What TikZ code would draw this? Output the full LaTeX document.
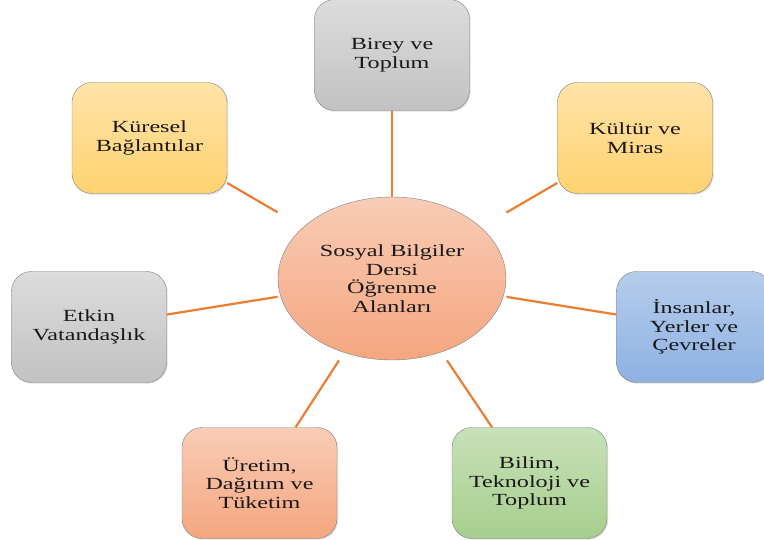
\documentclass[tikz,border=0pt]{standalone}
\usepackage{fontspec}
\setmainfont{Liberation Serif}[FakeStretch=1.42]
\usepackage{tikz}
\usepackage{xcolor}
\usetikzlibrary{shapes.geometric,fit,shadows}
\definecolor{myorange}{HTML}{ED7D31}
\definecolor{mygraytop}{HTML}{DCDCDC}
\definecolor{mygraybot}{HTML}{C2C2C2}
\definecolor{myyellowtop}{HTML}{FFE3A8}
\definecolor{myyellowbot}{HTML}{FFD270}
\definecolor{mybluetop}{HTML}{B6CDEC}
\definecolor{mybluebot}{HTML}{8EB1E2}
\definecolor{mygreentop}{HTML}{C8E1B9}
\definecolor{mygreenbot}{HTML}{A6CE8D}
\definecolor{myredtop}{HTML}{F9CCB6}
\definecolor{myredbot}{HTML}{F4A67F}
\tikzset{
	textfont/.style={font=\fontsize{17}{18.6}\selectfont,text=black!90,align=center},
	box/.style={textfont,rounded corners=20,draw=black!50,thin,minimum width=155,minimum height=111,
		drop shadow={shadow xshift=1.2pt,shadow yshift=-1.2pt,opacity=0.25}},
	box gray/.style={box,top color=mygraytop,bottom color=mygraybot},
	box yellow/.style={box,top color=myyellowtop,bottom color=myyellowbot},
	box blue/.style={box,top color=mybluetop,bottom color=mybluebot},
	box green/.style={box,top color=mygreentop,bottom color=mygreenbot},
	box red/.style={box,top color=myredtop,bottom color=myredbot},
	node center/.style={textfont,ellipse,inner sep=0,draw=black!50,thin,minimum width=228,minimum height=163,
		top color=myredtop,bottom color=myredbot},
	connect/.style={myorange,line width=2.2}
}

\begin{document}
\begin{tikzpicture}[x=1pt,y=-1pt]
  \useasboundingbox (0,0) rectangle (764,540);
  
  % CENTER
  \node[node center] (center) at (392,278.5) {Sosyal Bilgiler\\Dersi\\Öğrenme\\Alanları};
  \node[fit=(center),inner sep=0] (hub) {}; % lines stop at the box round the ellipse
  
  % AREAS
  \node[box gray]   (birey)    at (392,55)    {Birey ve\\Toplum};
  \node[box yellow] (kuresel)  at (149.5,138) {Küresel\\Bağlantılar};
  \node[box yellow] (kultur)   at (635,138)   {Kültür ve\\Miras};
  \node[box gray]   (etkin)    at (89,327)    {Etkin\\Vatandaşlık};
  \node[box blue]   (insanlar) at (694,327)   {İnsanlar,\\Yerler ve\\Çevreler};
  \node[box red]    (uretim)   at (259.5,483) {Üretim,\\Dağıtım ve\\Tüketim};
  \node[box green]  (bilim)    at (529.5,483) {Bilim,\\Teknoloji ve\\Toplum};
  
  % CONNECTORS
  \foreach \n in {birey,kuresel,kultur,etkin,insanlar,uretim,bilim}{ % loop over areas
    \draw[connect] (\n) -- (hub);
  }
  
\end{tikzpicture}
\end{document}
